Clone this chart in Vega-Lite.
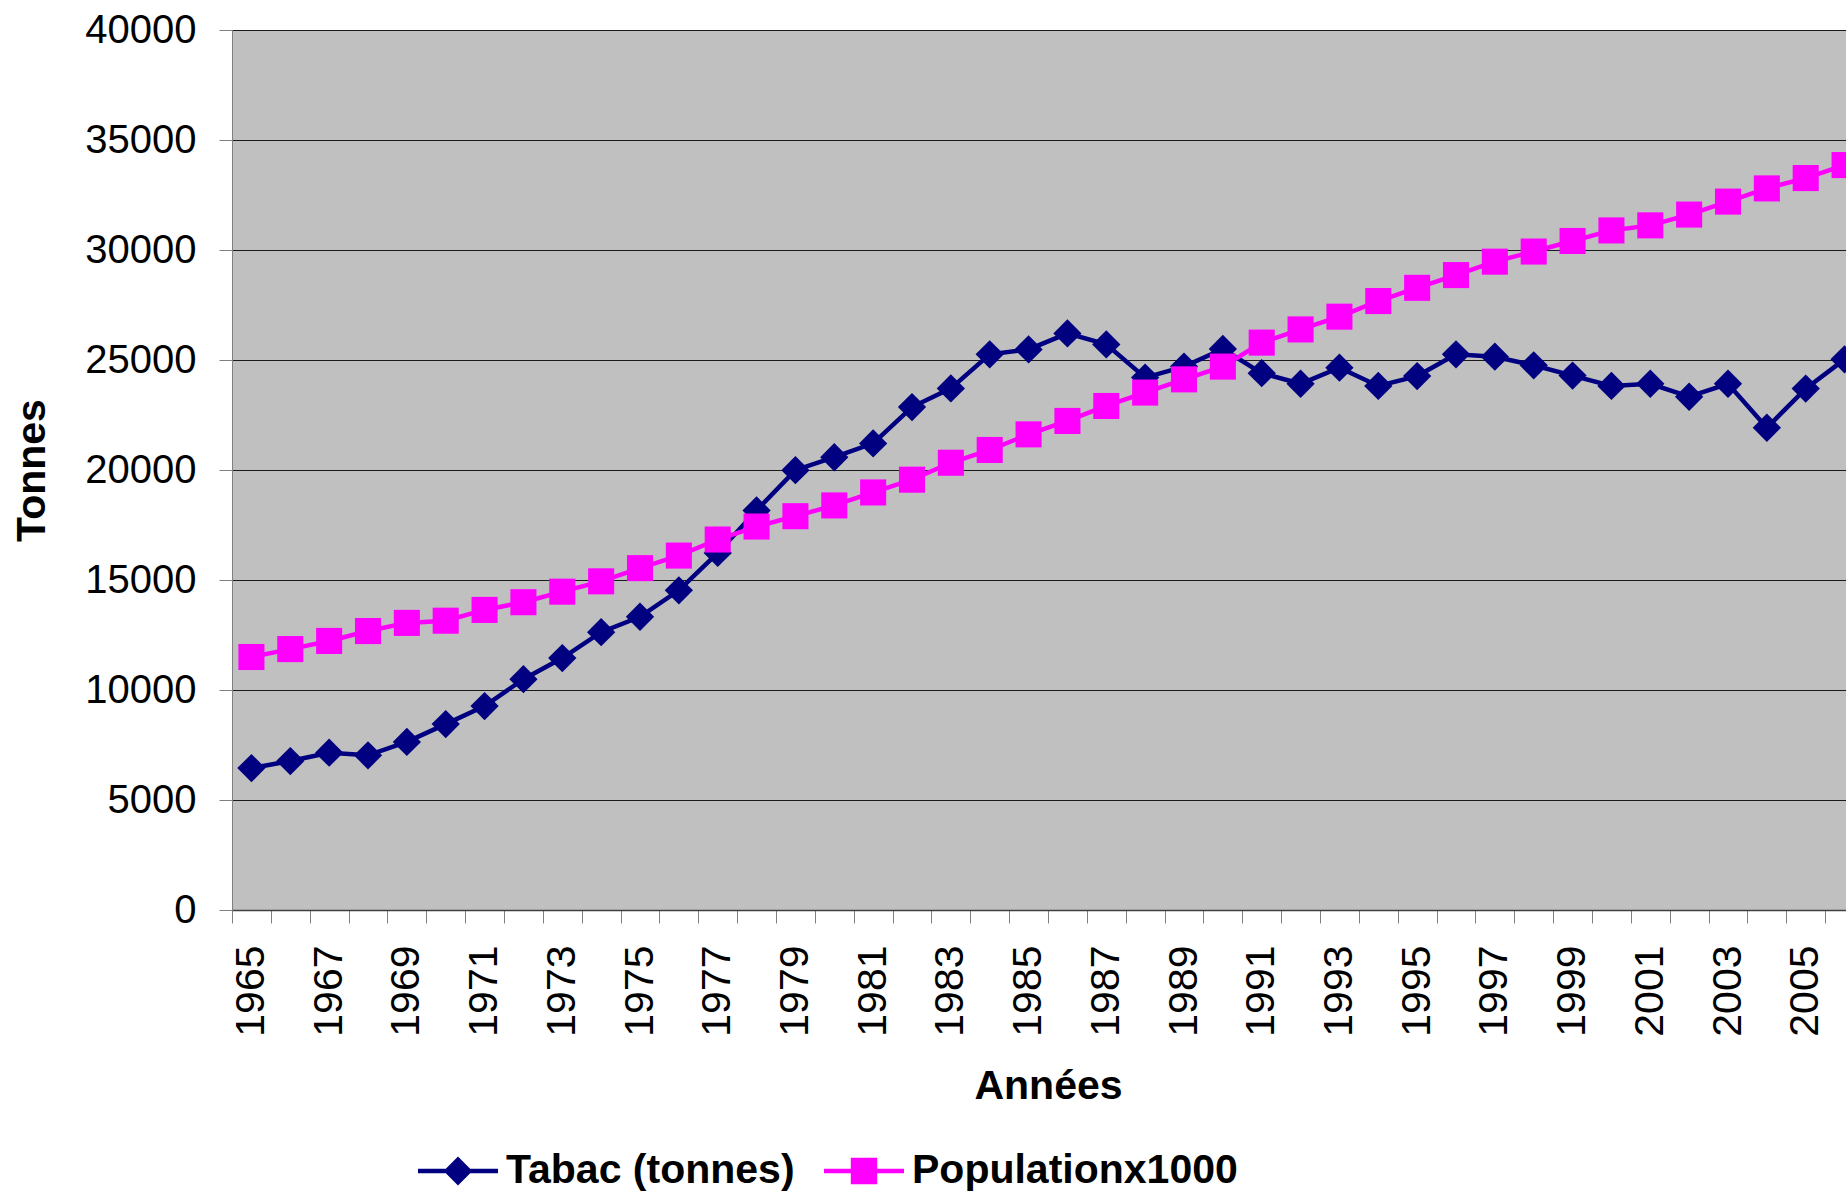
{
  "$schema": "https://vega.github.io/schema/vega-lite/v6.json",
  "width": 1614,
  "height": 880,
  "autosize": {"type": "none"},
  "padding": {"left": 232, "top": 30, "right": 0, "bottom": 281},
  "background": "white",
  "config": {
    "view": {"fill": "#C0C0C0", "stroke": null},
    "font": "Liberation Sans"
  },
  "data": {
    "values": [
      {"year": 1965, "serie": "Tabac (tonnes)", "value": 6450},
      {"year": 1966, "serie": "Tabac (tonnes)", "value": 6770},
      {"year": 1967, "serie": "Tabac (tonnes)", "value": 7150},
      {"year": 1968, "serie": "Tabac (tonnes)", "value": 7030},
      {"year": 1969, "serie": "Tabac (tonnes)", "value": 7640},
      {"year": 1970, "serie": "Tabac (tonnes)", "value": 8450},
      {"year": 1971, "serie": "Tabac (tonnes)", "value": 9270},
      {"year": 1972, "serie": "Tabac (tonnes)", "value": 10490},
      {"year": 1973, "serie": "Tabac (tonnes)", "value": 11450},
      {"year": 1974, "serie": "Tabac (tonnes)", "value": 12630},
      {"year": 1975, "serie": "Tabac (tonnes)", "value": 13330},
      {"year": 1976, "serie": "Tabac (tonnes)", "value": 14530},
      {"year": 1977, "serie": "Tabac (tonnes)", "value": 16230},
      {"year": 1978, "serie": "Tabac (tonnes)", "value": 18160},
      {"year": 1979, "serie": "Tabac (tonnes)", "value": 19990},
      {"year": 1980, "serie": "Tabac (tonnes)", "value": 20580},
      {"year": 1981, "serie": "Tabac (tonnes)", "value": 21210},
      {"year": 1982, "serie": "Tabac (tonnes)", "value": 22860},
      {"year": 1983, "serie": "Tabac (tonnes)", "value": 23710},
      {"year": 1984, "serie": "Tabac (tonnes)", "value": 25260},
      {"year": 1985, "serie": "Tabac (tonnes)", "value": 25480},
      {"year": 1986, "serie": "Tabac (tonnes)", "value": 26210},
      {"year": 1987, "serie": "Tabac (tonnes)", "value": 25710},
      {"year": 1988, "serie": "Tabac (tonnes)", "value": 24200},
      {"year": 1989, "serie": "Tabac (tonnes)", "value": 24700},
      {"year": 1990, "serie": "Tabac (tonnes)", "value": 25500},
      {"year": 1991, "serie": "Tabac (tonnes)", "value": 24400},
      {"year": 1992, "serie": "Tabac (tonnes)", "value": 23920},
      {"year": 1993, "serie": "Tabac (tonnes)", "value": 24650},
      {"year": 1994, "serie": "Tabac (tonnes)", "value": 23820},
      {"year": 1995, "serie": "Tabac (tonnes)", "value": 24270},
      {"year": 1996, "serie": "Tabac (tonnes)", "value": 25260},
      {"year": 1997, "serie": "Tabac (tonnes)", "value": 25150},
      {"year": 1998, "serie": "Tabac (tonnes)", "value": 24760},
      {"year": 1999, "serie": "Tabac (tonnes)", "value": 24290},
      {"year": 2000, "serie": "Tabac (tonnes)", "value": 23820},
      {"year": 2001, "serie": "Tabac (tonnes)", "value": 23920},
      {"year": 2002, "serie": "Tabac (tonnes)", "value": 23330},
      {"year": 2003, "serie": "Tabac (tonnes)", "value": 23920},
      {"year": 2004, "serie": "Tabac (tonnes)", "value": 21920},
      {"year": 2005, "serie": "Tabac (tonnes)", "value": 23700},
      {"year": 2006, "serie": "Tabac (tonnes)", "value": 25030},
      {"year": 1965, "serie": "Populationx1000", "value": 11500},
      {"year": 1966, "serie": "Populationx1000", "value": 11860},
      {"year": 1967, "serie": "Populationx1000", "value": 12230},
      {"year": 1968, "serie": "Populationx1000", "value": 12680},
      {"year": 1969, "serie": "Populationx1000", "value": 13050},
      {"year": 1970, "serie": "Populationx1000", "value": 13150},
      {"year": 1971, "serie": "Populationx1000", "value": 13640},
      {"year": 1972, "serie": "Populationx1000", "value": 13990},
      {"year": 1973, "serie": "Populationx1000", "value": 14470},
      {"year": 1974, "serie": "Populationx1000", "value": 14940},
      {"year": 1975, "serie": "Populationx1000", "value": 15540},
      {"year": 1976, "serie": "Populationx1000", "value": 16110},
      {"year": 1977, "serie": "Populationx1000", "value": 16840},
      {"year": 1978, "serie": "Populationx1000", "value": 17430},
      {"year": 1979, "serie": "Populationx1000", "value": 17900},
      {"year": 1980, "serie": "Populationx1000", "value": 18390},
      {"year": 1981, "serie": "Populationx1000", "value": 18980},
      {"year": 1982, "serie": "Populationx1000", "value": 19560},
      {"year": 1983, "serie": "Populationx1000", "value": 20330},
      {"year": 1984, "serie": "Populationx1000", "value": 20910},
      {"year": 1985, "serie": "Populationx1000", "value": 21620},
      {"year": 1986, "serie": "Populationx1000", "value": 22230},
      {"year": 1987, "serie": "Populationx1000", "value": 22910},
      {"year": 1988, "serie": "Populationx1000", "value": 23520},
      {"year": 1989, "serie": "Populationx1000", "value": 24120},
      {"year": 1990, "serie": "Populationx1000", "value": 24700},
      {"year": 1991, "serie": "Populationx1000", "value": 25790},
      {"year": 1992, "serie": "Populationx1000", "value": 26390},
      {"year": 1993, "serie": "Populationx1000", "value": 26970},
      {"year": 1994, "serie": "Populationx1000", "value": 27680},
      {"year": 1995, "serie": "Populationx1000", "value": 28280},
      {"year": 1996, "serie": "Populationx1000", "value": 28860},
      {"year": 1997, "serie": "Populationx1000", "value": 29470},
      {"year": 1998, "serie": "Populationx1000", "value": 29930},
      {"year": 1999, "serie": "Populationx1000", "value": 30410},
      {"year": 2000, "serie": "Populationx1000", "value": 30890},
      {"year": 2001, "serie": "Populationx1000", "value": 31120},
      {"year": 2002, "serie": "Populationx1000", "value": 31610},
      {"year": 2003, "serie": "Populationx1000", "value": 32200},
      {"year": 2004, "serie": "Populationx1000", "value": 32800},
      {"year": 2005, "serie": "Populationx1000", "value": 33270},
      {"year": 2006, "serie": "Populationx1000", "value": 33860}
    ]
  },
  "encoding": {
    "x": {
      "field": "year",
      "type": "ordinal",
      "scale": {"type": "band", "paddingInner": 0, "paddingOuter": 0, "range": [0, 1632]},
      "axis": {
        "title": "Années",
        "titleFont": "Liberation Sans",
        "titleFontSize": 41,
        "titleFontWeight": "bold",
        "titleColor": "black",
        "titlePadding": 30,
        "labelAngle": -90,
        "labelFont": "Liberation Sans",
        "labelFontSize": 41,
        "labelColor": "black",
        "labelPadding": 22,
        "labelOverlap": false,
        "labelExpr": "datum.value % 2 == 1 ? datum.label : ''",
        "tickBand": "extent",
        "tickSize": 13,
        "tickColor": "#808080",
        "tickWidth": 1,
        "domainColor": "#404040",
        "domainWidth": 1.5,
        "grid": false
      }
    },
    "y": {
      "field": "value",
      "type": "quantitative",
      "scale": {"domain": [0, 40000], "nice": false},
      "axis": {
        "title": "Tonnes",
        "titleFont": "Liberation Sans",
        "titleFontSize": 41,
        "titleFontWeight": "bold",
        "titleColor": "black",
        "titlePadding": 31,
        "values": [0, 5000, 10000, 15000, 20000, 25000, 30000, 35000, 40000],
        "format": "d",
        "labelFont": "Liberation Sans",
        "labelFontSize": 40,
        "labelColor": "black",
        "labelPadding": 23,
        "tickSize": 13,
        "tickColor": "#808080",
        "domainColor": "#808080",
        "domainWidth": 1,
        "grid": true,
        "gridColor": "#1a1a1a",
        "gridWidth": 1.2
      }
    }
  },
  "layer": [
    {
      "transform": [{"filter": "datum.serie === 'Tabac (tonnes)'"}],
      "mark": {"type": "line", "strokeWidth": 4.5, "color": "#000080"},
      "encoding": {}
    },
    {
      "transform": [{"filter": "datum.serie === 'Tabac (tonnes)'"}],
      "mark": {"type": "point", "shape": "diamond", "filled": true, "size": 800, "opacity": 1, "color": "#000080"}
    },
    {
      "transform": [{"filter": "datum.serie === 'Populationx1000'"}],
      "mark": {"type": "line", "strokeWidth": 4.5, "color": "#FF00FF"},
      "encoding": {}
    },
    {
      "transform": [{"filter": "datum.serie === 'Populationx1000'"}],
      "mark": {"type": "point", "shape": "square", "filled": true, "size": 680, "opacity": 1, "color": "#FF00FF"}
    },
    {
      "mark": {"type": "point", "filled": true, "opacity": 0, "size": 6400},
      "encoding": {
        "color": {
          "field": "serie",
          "type": "nominal",
          "scale": {"domain": ["Tabac (tonnes)", "Populationx1000"], "range": ["#000080", "#FF00FF"]},
          "legend": {
            "orient": "none",
            "legendX": 186,
            "legendY": 1101,
            "direction": "horizontal",
            "title": null,
            "labelFont": "Liberation Sans",
            "labelFontSize": 41,
            "labelFontWeight": "bold",
            "labelColor": "black",
            "labelLimit": 2000,
            "labelOffset": 8,
            "columnPadding": 29,
            "symbolSize": 6400,
            "symbolStrokeWidth": 0,
            "symbolOpacity": 1
          }
        },
        "shape": {
          "field": "serie",
          "type": "nominal",
          "scale": {
            "domain": ["Tabac (tonnes)", "Populationx1000"],
            "range": [
              "M-1,-0.055H1V0.055H-1ZM-0.36,0L0,-0.36L0.36,0L0,0.36Z",
              "M-1,-0.055H1V0.055H-1ZM-0.33,-0.33H0.33V0.33H-0.33Z"
            ]
          },
          "legend": {
            "orient": "none",
            "legendX": 186,
            "legendY": 1101,
            "direction": "horizontal",
            "title": null,
            "labelFont": "Liberation Sans",
            "labelFontSize": 41,
            "labelFontWeight": "bold",
            "labelColor": "black",
            "labelLimit": 2000,
            "labelOffset": 8,
            "columnPadding": 29,
            "symbolSize": 6400,
            "symbolStrokeWidth": 0,
            "symbolOpacity": 1
          }
        }
      }
    }
  ]
}
